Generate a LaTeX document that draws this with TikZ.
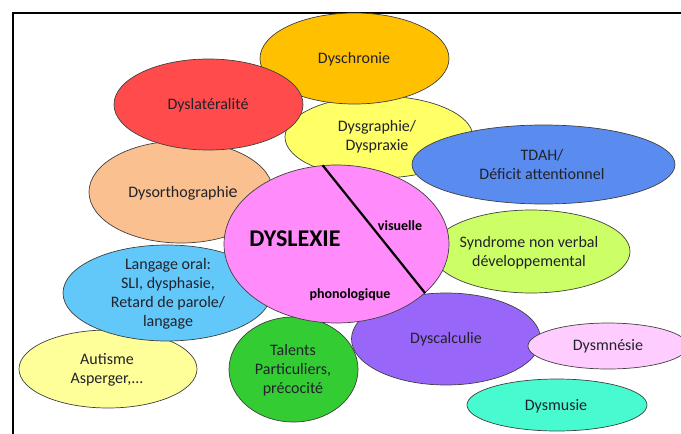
\documentclass[tikz,border=0pt]{standalone}
\usepackage{fontspec}
\setmainfont{Carlito}
\usetikzlibrary{shapes.geometric}
\definecolor{cChron}{HTML}{FFC000}
\definecolor{cLat}{HTML}{FF4B4B}
\definecolor{cGraph}{HTML}{FFFF66}
\definecolor{cOrth}{HTML}{FAC08F}
\definecolor{cTdah}{HTML}{5A8CF0}
\definecolor{cSynd}{HTML}{CCFF66}
\definecolor{cLang}{HTML}{62C8FA}
\definecolor{cAut}{HTML}{FFFF99}
\definecolor{cTal}{HTML}{33CC33}
\definecolor{cCalc}{HTML}{9966FA}
\definecolor{cLex}{HTML}{FF8CFA}
\definecolor{cMne}{HTML}{FFCCFF}
\definecolor{cMus}{HTML}{47FACF}
\definecolor{cTxt}{HTML}{22222B}
\definecolor{cEdge}{HTML}{404040}
\tikzset{
  blob/.style={ellipse, draw=cEdge, line width=0.7pt, inner sep=0pt},
  lbl/.style={text=cTxt, font=\fontsize{16}{19}\selectfont, align=center, inner sep=0pt},
  blbl/.style={text=black, font=\bfseries\fontsize{14}{16}\selectfont, inner sep=0pt},
  frame/.style={line width=1.8pt, black}
}
\begin{document}
\begin{tikzpicture}[x=1pt,y=-1pt]
\useasboundingbox (0,0) rectangle (681,434);
% frame
\coordinate (fbl) at (12.7,434);
\coordinate (ftl) at (12.7,12.7);
\coordinate (ftr) at (681,12.7);
\draw[frame] (fbl) -- (ftl) -- (ftr);
% ellipses
\node[blob, fill=cGraph, minimum width=188pt, minimum height=82pt] (graph) at (379,137) {};
\node[blob, fill=cChron, minimum width=189pt, minimum height=91pt] (chron) at (354.5,58.5) {};
\node[blob, fill=cOrth, minimum width=184pt, minimum height=102pt] (orth) at (181,192) {};
\node[blob, fill=cLat, minimum width=189pt, minimum height=91pt] (lat) at (208.5,104.5) {};
\node[blob, fill=cTdah, minimum width=263pt, minimum height=79pt] (tdah) at (543.5,164.5) {};
\node[blob, fill=cSynd, minimum width=198pt, minimum height=83pt] (synd) at (531,251.5) {};
\node[blob, fill=cAut, minimum width=178pt, minimum height=78pt] (aut) at (108,369) {};
\node[blob, fill=cLang, minimum width=208pt, minimum height=96pt] (lang) at (167,293) {};
\node[blob, fill=cTal, minimum width=129pt, minimum height=105pt] (tal) at (293.5,369.5) {};
\node[blob, fill=cCalc, minimum width=189pt, minimum height=92pt] (calc) at (446,339) {};
\node[blob, fill=cLex, minimum width=225pt, minimum height=158pt] (lex) at (336.5,244) {};
\node[blob, fill=cMne, minimum width=160pt, minimum height=46pt] (mne) at (608,346) {};
\node[blob, fill=cMus, minimum width=180pt, minimum height=52pt] (mus) at (557,405) {};
% dividing line
\draw[line width=2.2pt, black] (lex.100) -- (lex.-29);
% labels
\node[lbl] (tChron) at (354,59) {Dyschronie};
\node[lbl] (tLat) at (208,105) {Dyslatéralité};
\node[lbl] (tGraph) at (377,137) {Dysgraphie/\\Dyspraxie};
\node[lbl] (tOrth) at (183,193) {Dysorthographi{\fontsize{18}{19}\selectfont e}};
\node[lbl] (tTdah) at (542,165) {TDAH/\\Déficit attentionnel};
\node[lbl] (tSynd) at (529,253) {Syndrome non verbal\\développemental};
\node[lbl] (tLang) at (168,294) {Langage oral:\\SLI, dysphasie,\\Retard de parole/\\langage};
\node[lbl] (tAut) at (107,370) {Autisme\\Asperger,...};
\node[lbl] (tTal) at (293,370) {Talents\\Particuliers,\\précocité};
\node[lbl] (tCalc) at (446,339) {Dyscalculie};
\node[lbl] (tMne) at (608,346) {Dysmnésie};
\node[lbl] (tMus) at (556,406) {Dysmusie};
\node[text=black, font=\bfseries\fontsize{24}{26}\selectfont, inner sep=0pt] (tLex) at (295,239) {DYSLEXIE};
\node[blbl] (tVis) at (400,226) {visuelle};
\node[blbl] (tPho) at (350,295) {phonologique};
\end{tikzpicture}
\end{document}
